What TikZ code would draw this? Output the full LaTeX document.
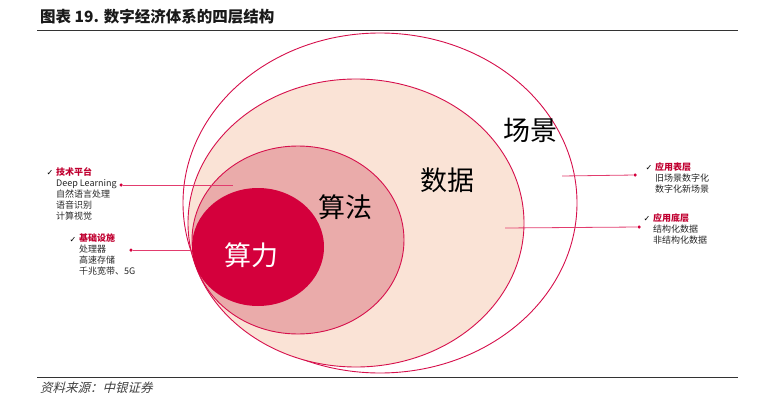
\documentclass[tikz,border=0pt]{standalone}
\usepackage{fontspec}
\setmainfont{Noto Sans CJK SC}
\newfontfamily\symfont{DejaVu Sans}
\newfontfamily\srcfont[FakeSlant=0.25]{Noto Sans CJK SC}
\usetikzlibrary{positioning}
\definecolor{cDeep}{RGB}{212,0,60}
\definecolor{cRing}{RGB}{214,16,76}
\definecolor{cAlgo}{RGB}{234,171,170}
\definecolor{cData}{RGB}{250,227,214}
\definecolor{cHead}{RGB}{192,0,48}
\definecolor{cLead}{RGB}{226,60,110}
\tikzset{
  ring/.style={draw=cRing, line width=0.9pt},
  layer/.style={font=\fontsize{27}{30}\selectfont, inner sep=0pt},
  block/.style={anchor=north west, align=left, inner sep=0pt, text=black!85,
    font=\fontsize{9}{11}\selectfont},
  tick/.style={font=\symfont\fontsize{8}{9}\selectfont, inner sep=0pt},
  dot/.style={circle, fill=cDeep, inner sep=0pt, minimum size=3.5pt},
  lead/.style={draw=cLead, line width=0.8pt}
}
\newcommand{\headline}[1]{\textcolor{cHead}{\bfseries #1}}
\begin{document}
\begin{tikzpicture}[x=1pt, y=-1pt]
  \useasboundingbox (0,0) rectangle (758,412);
  % title and rules
  \node[anchor=west, inner sep=0pt, font=\bfseries\fontsize{15.5}{17}\selectfont, text=black!90] (title) at (40,17) {图表 19. 数字经济体系的四层结构};
  \draw[black!80, line width=0.8pt] (37,30) -- (738,30);
  \draw[black!80, line width=0.8pt] (37,377) -- (738,377);
  \node[anchor=west, inner sep=0pt, font=\srcfont\fontsize{12.5}{14}\selectfont, text=black!75] (source) at (40,388) {资料来源：中银证券};
  % four layers
  \draw[ring, fill=white] (380,203) ellipse [x radius=197, y radius=170];
  \draw[ring, fill=cData] (356,223) ellipse [x radius=168, y radius=144];
  \draw[ring, fill=cAlgo] (298,240) ellipse [x radius=106, y radius=94];
  \fill[cDeep] (258,247) ellipse [x radius=66, y radius=59];
  \node[layer] (scene) at (530,130) {场景};
  \node[layer] (data) at (447,180) {数据};
  \node[layer] (algo) at (345,207) {算法};
  \node[layer, text=white] (power) at (251,255) {算力};
  % left notes
  \node[block] (tech) at (56,167) {\headline{技术平台}\\Deep Learning\\自然语言处理\\语音识别\\计算视觉};
  \node[tick] (tickA) at (50,173) {✓};
  \node[block] (infra) at (79,234) {\headline{基础设施}\\处理器\\高速存储\\千兆宽带、5G};
  \node[tick] (tickB) at (73,240) {✓};
  \node[dot] (dA) at (121,185) {};
  \coordinate (eA) at (233,185);
  \draw[lead] (dA) -- (eA);
  \node[dot] (dB) at (131,250) {};
  \coordinate (eB) at (192,250);
  \draw[lead] (dB) -- (eB);
  % right notes
  \node[block] (surface) at (655,162) {\headline{应用表层}\\旧场景数字化\\数字化新场景};
  \node[tick] (tickC) at (649,168) {✓};
  \node[block] (base) at (653,213) {\headline{应用底层}\\结构化数据\\非结构化数据};
  \node[tick] (tickD) at (647,219) {✓};
  \node[dot] (dC) at (635,175) {};
  \coordinate (eC) at (562,176);
  \draw[lead] (eC) -- (dC);
  \node[dot] (dD) at (639,227) {};
  \coordinate (eD) at (505,228);
  \draw[lead] (eD) -- (dD);
\end{tikzpicture}
\end{document}
